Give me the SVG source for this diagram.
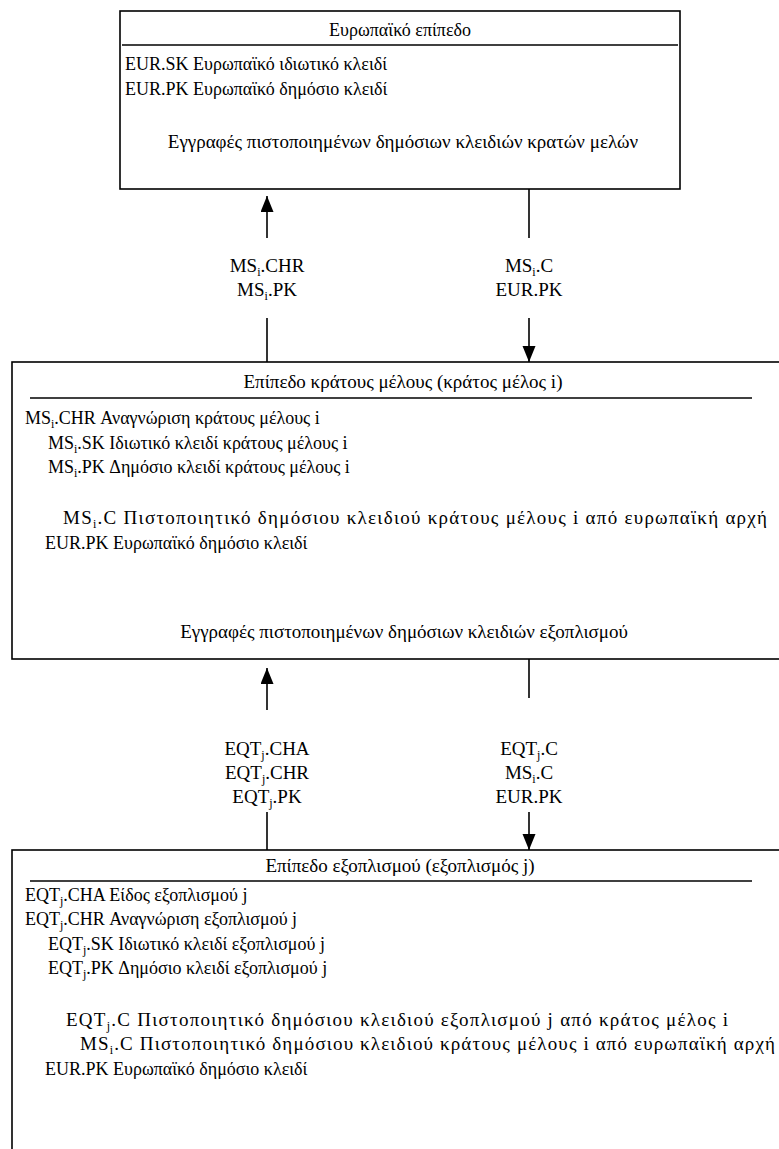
<svg xmlns="http://www.w3.org/2000/svg" width="779" height="1149" viewBox="0 0 779 1149">
<style>
.t{font-family:"Liberation Serif","DejaVu Serif",serif;font-size:18px;fill:#000}
.l{font-size:19px}
.c{text-anchor:middle}
.s{font-size:12px}
.box{fill:#fff;stroke:#000;stroke-width:1.6}
.rule{stroke:#000;stroke-width:1.6}
.conn{stroke:#000;stroke-width:1.6;fill:none}
</style>
<defs>
<marker id="ah" markerUnits="userSpaceOnUse" markerWidth="16" markerHeight="14" refX="16" refY="6.5" orient="auto">
<path d="M0,0 L16,6.5 L0,13 Z" fill="#000"/>
</marker>
</defs>
<g id="connectors">
<path class="conn" d="M267,238 L267,196" marker-end="url(#ah)"/>
<path class="conn" d="M267,318 L267,362"/>
<path class="conn" d="M529,189 L529,238"/>
<path class="conn" d="M529,318 L529,362" marker-end="url(#ah)"/>
<text class="t l c" x="267" y="272">MS<tspan class="s" dy="4">i</tspan><tspan dy="-4">.CHR</tspan></text>
<text class="t l c" x="267" y="296">MS<tspan class="s" dy="4">i</tspan><tspan dy="-4">.PK</tspan></text>
<text class="t l c" x="529" y="272">MS<tspan class="s" dy="4">i</tspan><tspan dy="-4">.C</tspan></text>
<text class="t l c" x="529" y="296">EUR.PK</text>
<path class="conn" d="M267,710 L267,668" marker-end="url(#ah)"/>
<path class="conn" d="M267,812 L267,850"/>
<path class="conn" d="M529,659 L529,698"/>
<path class="conn" d="M529,812 L529,850" marker-end="url(#ah)"/>
<text class="t l c" x="267" y="755">EQT<tspan class="s" dy="4">j</tspan><tspan dy="-4">.CHA</tspan></text>
<text class="t l c" x="267" y="779">EQT<tspan class="s" dy="4">j</tspan><tspan dy="-4">.CHR</tspan></text>
<text class="t l c" x="267" y="803">EQT<tspan class="s" dy="4">j</tspan><tspan dy="-4">.PK</tspan></text>
<text class="t l c" x="529" y="755">EQT<tspan class="s" dy="4">j</tspan><tspan dy="-4">.C</tspan></text>
<text class="t l c" x="529" y="779">MS<tspan class="s" dy="4">i</tspan><tspan dy="-4">.C</tspan></text>
<text class="t l c" x="529" y="803">EUR.PK</text>
</g>
<g id="european">
<rect class="box" x="120" y="11" width="560" height="178"/>
<text class="t c" x="400" y="36">Ευρωπαϊκό επίπεδο</text>
<line class="rule" x1="122" y1="45" x2="678" y2="45"/>
<text class="t" x="125" y="70">EUR.SK Ευρωπαϊκό ιδιωτικό κλειδί</text>
<text class="t" x="125" y="95">EUR.PK Ευρωπαϊκό δημόσιο κλειδί</text>
<text class="t l c" x="403" y="148">Εγγραφές πιστοποιημένων δημόσιων κλειδιών κρατών μελών</text>
</g>
<g id="member-state">
<rect class="box" x="12" y="362" width="800" height="297"/>
<text class="t l c" x="403" y="388">Επίπεδο κράτους μέλους (κράτος μέλος i)</text>
<line class="rule" x1="30" y1="398" x2="752" y2="398"/>
<text class="t" x="25" y="424">MS<tspan class="s" dy="4">i</tspan><tspan dy="-4">.CHR Αναγνώριση κράτους μέλους i</tspan></text>
<text class="t" x="48" y="449">MS<tspan class="s" dy="4">i</tspan><tspan dy="-4">.SK Ιδιωτικό κλειδί κράτους μέλους i</tspan></text>
<text class="t" x="48" y="473">MS<tspan class="s" dy="4">i</tspan><tspan dy="-4">.PK Δημόσιο κλειδί κράτους μέλους i</tspan></text>
<text class="t l" x="63" y="524" textLength="704">MS<tspan class="s" dy="4">i</tspan><tspan dy="-4">.C Πιστοποιητικό δημόσιου κλειδιού κράτους μέλους i από ευρωπαϊκή αρχή</tspan></text>
<text class="t" x="45" y="549">EUR.PK Ευρωπαϊκό δημόσιο κλειδί</text>
<text class="t l c" x="404" y="638">Εγγραφές πιστοποιημένων δημόσιων κλειδιών εξοπλισμού</text>
</g>
<g id="equipment">
<rect class="box" x="12" y="850" width="800" height="320"/>
<text class="t l c" x="400" y="872">Επίπεδο εξοπλισμού (εξοπλισμός j)</text>
<line class="rule" x1="30" y1="881" x2="752" y2="881"/>
<text class="t" x="25" y="901">EQT<tspan class="s" dy="4">j</tspan><tspan dy="-4">.CHA Είδος εξοπλισμού j</tspan></text>
<text class="t" x="25" y="925">EQT<tspan class="s" dy="4">j</tspan><tspan dy="-4">.CHR Αναγνώριση εξοπλισμού j</tspan></text>
<text class="t" x="48" y="950">EQT<tspan class="s" dy="4">j</tspan><tspan dy="-4">.SK Ιδιωτικό κλειδί εξοπλισμού j</tspan></text>
<text class="t" x="48" y="974">EQT<tspan class="s" dy="4">j</tspan><tspan dy="-4">.PK Δημόσιο κλειδί εξοπλισμού j</tspan></text>
<text class="t l" x="66" y="1026" textLength="662">EQT<tspan class="s" dy="4">j</tspan><tspan dy="-4">.C Πιστοποιητικό δημόσιου κλειδιού εξοπλισμού j από κράτος μέλος i</tspan></text>
<text class="t l" x="80" y="1050" textLength="695">MS<tspan class="s" dy="4">i</tspan><tspan dy="-4">.C Πιστοποιητικό δημόσιου κλειδιού κράτους μέλους i από ευρωπαϊκή αρχή</tspan></text>
<text class="t" x="45" y="1075">EUR.PK Ευρωπαϊκό δημόσιο κλειδί</text>
</g>
</svg>
